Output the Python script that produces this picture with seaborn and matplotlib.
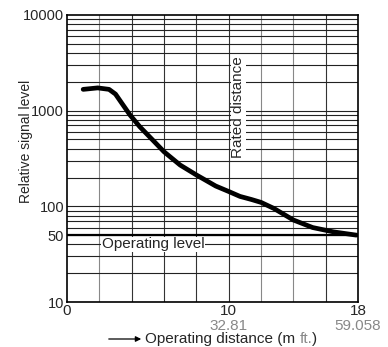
import matplotlib
matplotlib.use("Agg")
import matplotlib.pyplot as plt
import matplotlib.transforms as mtransforms
import seaborn as sns
import numpy as np

# Curve values
distance_m = [1.0, 1.9, 2.6, 3.0, 3.4, 3.9, 4.5, 5.4, 6.0, 7.0, 8.0, 9.2, 10.0, 10.7, 11.4, 12.0,
              12.8, 14.0, 15.2, 16.5, 17.9]
signal = [1670, 1730, 1670, 1490, 1190, 900, 680, 474, 372, 270, 213, 163, 143, 127, 118, 110,
          95, 72, 60, 54, 50]

x_ticks = [0, 10, 18]
x_ticks_ft = ["", "32.81", "59.058"]
y_ticks = [10, 50, 100, 1000, 10000]
operating_level = 50
rated_distance = 10.6

sns.set_style("white")
plt.rcParams['font.family'] = ['Liberation Sans', 'DejaVu Sans']

fig = plt.figure(figsize=(3.88, 3.47), dpi=100)
ax = fig.add_axes([67 / 388, 1 - 302 / 347, 291 / 388, 287 / 347])

ax.set_yscale("log")
ax.set_xlim(0, 18)
ax.set_ylim(10, 10000)

# rejilla
for xv in np.arange(2, 18, 2):
    ax.axvline(xv, color="#333333" if xv not in (2, 12, 14) else "#888888", lw=0.8, zorder=1)
for dec in [10, 100, 1000]:
    for k in range(1, 10):
        ax.axhline(dec * k, color="#222222", lw=0.8, zorder=1)
ax.axhline(operating_level, color="black", lw=1.6, zorder=2)

sns.lineplot(x=distance_m, y=signal, ax=ax, color="black", lw=3.4, zorder=3)

ax.text(2.15, 40, "Operating level", fontsize=11, va="center", ha="left",
        bbox=dict(facecolor="white", edgecolor="none", pad=0.3), zorder=4)
ax.text(rated_distance, 1100, "Rated distance", fontsize=11, rotation=90,
        va="center", ha="center",
        bbox=dict(facecolor="white", edgecolor="none", pad=0.3), zorder=4)

ax.set_xticks(x_ticks)
ax.set_xticklabels([str(t) for t in x_ticks], fontsize=11)
ax.set_yticks(y_ticks)
ax.set_yticklabels([str(t) for t in y_ticks], fontsize=10.5)
ax.yaxis.set_minor_locator(matplotlib.ticker.NullLocator())
ax.tick_params(axis="both", length=0, pad=2)
ax.tick_params(axis="x", pad=1.5)

trans = mtransforms.blended_transform_factory(ax.transData, ax.transAxes)
for xv, lab in zip(x_ticks, x_ticks_ft):
    if lab:
        ax.text(xv, -0.083, lab, transform=trans, ha="center", va="center",
                fontsize=11, color="#888888")

for sp in ax.spines.values():
    sp.set_color("black")
    sp.set_linewidth(1.2)

ax.set_ylabel("Relative signal level", fontsize=10)
ax.yaxis.set_label_coords(-0.117, 0.56)

# etiqueta del eje x con flecha
yl = 1 - 339 / 347
t1 = fig.text(145 / 388, yl, "Operating distance (m ", fontsize=11, va="center", ha="left")
fig.canvas.draw()
r = fig.canvas.get_renderer()
bb = t1.get_window_extent(r).transformed(fig.transFigure.inverted())
t2 = fig.text(bb.x1, yl, "ft.", fontsize=11, va="center", ha="left", color="#888888")
bb2 = t2.get_window_extent(r).transformed(fig.transFigure.inverted())
fig.text(bb2.x1, yl, ")", fontsize=11, va="center", ha="left")
fig.add_artist(matplotlib.patches.FancyArrowPatch(
    (106 / 388, yl), (144 / 388, yl), transform=fig.transFigure,
    arrowstyle="-|>", mutation_scale=8, color="black", lw=0.9))

plt.savefig("out.png", dpi=100)
